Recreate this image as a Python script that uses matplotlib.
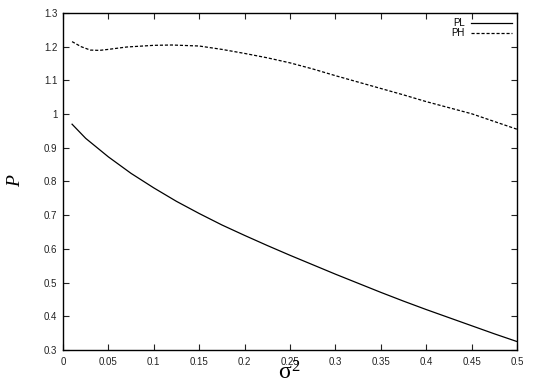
import numpy as np
import matplotlib
matplotlib.use('Agg')
import matplotlib.pyplot as plt

# values
sigma2_pl = [0.01, 0.025, 0.05, 0.075, 0.1, 0.125, 0.15, 0.175, 0.2, 0.225, 0.25,
             0.275, 0.3, 0.325, 0.35, 0.375, 0.4, 0.425, 0.45, 0.475, 0.5]
p_low = [0.970, 0.928, 0.873, 0.824, 0.781, 0.741, 0.705, 0.671, 0.640, 0.610, 0.581,
         0.553, 0.525, 0.498, 0.471, 0.445, 0.420, 0.396, 0.372, 0.348, 0.325]

sigma2_ph = [0.01, 0.02, 0.03, 0.04, 0.05, 0.07, 0.1, 0.12, 0.15, 0.175, 0.2, 0.225,
             0.25, 0.275, 0.3, 0.325, 0.35, 0.375, 0.4, 0.425, 0.45, 0.475, 0.5]
p_high = [1.215, 1.200, 1.190, 1.189, 1.192, 1.199, 1.204, 1.205, 1.202, 1.192, 1.180,
          1.167, 1.152, 1.134, 1.114, 1.095, 1.076, 1.057, 1.037, 1.019, 1.001, 0.978, 0.955]

xticks = [0, 0.05, 0.1, 0.15, 0.2, 0.25, 0.3, 0.35, 0.4, 0.45, 0.5]
xticklabels = ['0', '0.05', '0.1', '0.15', '0.2', '0.25', '0.3', '0.35', '0.4', '0.45', '0.5']
yticks = [0.3, 0.4, 0.5, 0.6, 0.7, 0.8, 0.9, 1.0, 1.1, 1.2, 1.3]
yticklabels = ['0.3', '0.4', '0.5', '0.6', '0.7', '0.8', '0.9', '1', '1.1', '1.2', '1.3']

plt.rcParams['font.family'] = ['Liberation Sans', 'DejaVu Sans']
plt.rcParams['mathtext.fontset'] = 'custom'
plt.rcParams['mathtext.rm'] = 'Liberation Serif'
plt.rcParams['mathtext.it'] = 'Liberation Serif'

fig = plt.figure(figsize=(5.37, 3.82), dpi=100)
ax = fig.add_axes([0.1173, 0.0838, 0.8455, 0.8822])

ax.plot(sigma2_pl, p_low, '-', color='black', lw=0.9, label='PL')
ax.plot(sigma2_ph, p_high, color='black', lw=0.9, linestyle=(0, (2.5, 1.5)), label='PH')

ax.set_xlim(0, 0.5)
ax.set_ylim(0.3, 1.3)
ax.set_xticks(xticks)
ax.set_xticklabels(xticklabels)
ax.set_yticks(yticks)
ax.set_yticklabels(yticklabels)
ax.tick_params(direction='in', top=True, right=True, length=4, width=0.8,
               labelsize=7, colors='#222222')
ax.tick_params(axis='x', pad=5)
ax.tick_params(axis='y', pad=4)
for s in ax.spines.values():
    s.set_linewidth(1.0)

ax.set_xlabel(r'$\sigma^2$', fontsize=17)
ax.xaxis.set_label_coords(0.5, -0.087)
ax.xaxis.label.set_va('baseline')
ax.set_ylabel('P', fontsize=14, fontstyle='italic', family='Liberation Serif', labelpad=14)

ax.legend(loc='upper right', frameon=False, markerfirst=False, fontsize=7,
          handlelength=4.2, handletextpad=0.6, labelspacing=0.0,
          borderaxespad=0.0, borderpad=0.55)

fig.savefig('out.png', dpi=100)
